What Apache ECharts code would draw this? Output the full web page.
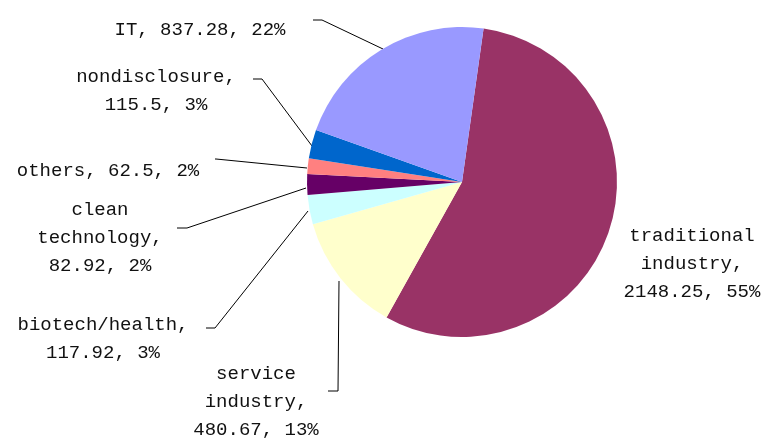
<!DOCTYPE html>
<html>
<head>
<meta charset="utf-8">
<script src="https://cdn.jsdelivr.net/npm/echarts@6/dist/echarts.min.js"></script>
<style>
  html, body { margin: 0; padding: 0; background: #fff; }
  #chart { width: 764px; height: 441px; }
</style>
</head>
<body>
<div id="chart"></div>
<script>
// data, clockwise from the top
const names = ['traditional industry', 'service industry', 'biotech/health', 'clean technology', 'others', 'nondisclosure', 'IT']
const values = [2148.25, 480.67, 117.92, 82.92, 62.5, 115.5, 837.28]
const percents = ['55%', '13%', '3%', '2%', '2%', '3%', '22%']
const colors = ['#993366', '#FFFFCC', '#CCFFFF', '#660066', '#FF8080', '#0066CC', '#9999FF']

// label placement (centre of each text block)
const labelPos = [[692, 264], [256, 402], [103, 339], [100, 238], [108, 171], [156, 91], [200, 30]]
// leader lines like the excel original: short tick next to the text, then to the pie edge
const leaders = [
  null,
  [[328, 391], [338, 391], [339, 281]],
  [[206, 328], [215, 328], [308, 211]],
  [[177, 228], [187, 228], [306, 188]],
  [[215, 159], [216, 159], [307, 168]],
  [[253, 79], [262, 79], [312, 146]],
  [[313, 20], [322, 20], [383, 49]]
]
// 'all' = every word on its own line, 'name' = name then numbers, 'one' = single line
const wrap = ['all', 'all', 'name', 'all', 'one', 'name', 'one']

const chart = echarts.init(document.getElementById('chart'))

const option = {
  animation: false,
  backgroundColor: '#fff',
  series: [{
    type: 'pie',
    center: [462, 182],
    radius: 155,
    startAngle: 82,
    clockwise: true,
    avoidLabelOverlap: false,
    data: names.map((n, i) => ({
      name: n,
      value: values[i],
      itemStyle: { color: colors[i] },
      labelLine: { show: i !== 0 }
    })),
    label: {
      show: true,
      position: 'outside',
      color: '#111',
      fontFamily: 'Liberation Mono, monospace',
      fontSize: 19,
      lineHeight: 28,
      formatter: (p) => {
        const i = p.dataIndex
        const nums = values[i] + ', ' + percents[i]
        if (wrap[i] === 'one') return names[i] + ', ' + nums
        if (wrap[i] === 'name') return names[i] + ',\n' + nums
        return names[i].split(' ').join('\n') + ',\n' + nums
      }
    },
    labelLine: {
      show: true,
      length: 10,
      length2: 10,
      lineStyle: { color: '#000', width: 1 }
    },
    labelLayout: (p) => {
      const i = p.dataIndex
      const out = {
        x: labelPos[i][0],
        y: labelPos[i][1],
        align: 'center',
        verticalAlign: 'middle'
      }
      if (leaders[i]) out.labelLinePoints = leaders[i]
      return out
    },
    emphasis: { disabled: true }
  }]
}

chart.setOption(option)
</script>
</body>
</html>
